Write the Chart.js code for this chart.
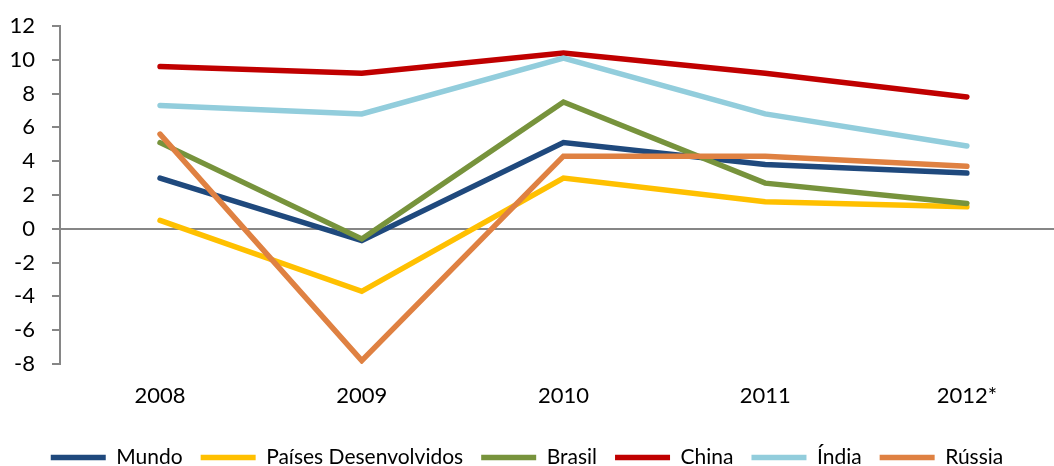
<!DOCTYPE html>
<html>
<head>
<meta charset="utf-8">
<script src="https://cdn.jsdelivr.net/npm/chart.js@4"></script>
<style>
    html, body { margin: 0; padding: 0; background: #fff; overflow: hidden; }
    #wrap { width: 1054px; height: 466px; overflow: hidden; }
</style>
</head>
<body>
<div id="wrap">
    <canvas id="grafico" width="1054" height="478"></canvas>
</div>
<script>
// Dados
const anos = ['2008', '2009', '2010', '2011', '2012*'];
const mundo = [3.0, -0.7, 5.1, 3.8, 3.3];
const paisesDesenvolvidos = [0.5, -3.7, 3.0, 1.6, 1.3];
const brasil = [5.1, -0.6, 7.5, 2.7, 1.5];
const china = [9.6, 9.2, 10.4, 9.2, 7.8];
const india = [7.3, 6.8, 10.1, 6.8, 4.9];
const russia = [5.6, -7.8, 4.3, 4.3, 3.7];
const ticksY = [-8, -6, -4, -2, 0, 2, 4, 6, 8, 10, 12];

const series = [
    { label: 'Mundo', data: mundo, color: '#1F497D' },
    { label: 'Países Desenvolvidos', data: paisesDesenvolvidos, color: '#FFC000' },
    { label: 'Brasil', data: brasil, color: '#77933C' },
    { label: 'China', data: china, color: '#C00000' },
    { label: 'Índia', data: india, color: '#92CDDC' },
    { label: 'Rússia', data: russia, color: '#DF8142' }
];

const fonte = 'Lato, "Open Sans", sans-serif';
const cinza = '#868686';

// últimas séries desenhadas por cima, como no original
const datasets = series.map((s, i) => ({
    label: s.label,
    data: s.data.map((v, j) => ({ x: j, y: v })),
    borderColor: s.color,
    backgroundColor: s.color,
    borderWidth: 5.5,
    borderCapStyle: 'round',
    pointRadius: 0,
    tension: 0,
    order: series.length - i
}));

new Chart(document.getElementById('grafico'), {
    type: 'line',
    data: { datasets: datasets },
    options: {
        responsive: false,
        animation: false,
        devicePixelRatio: 1,
        layout: { padding: { top: 26, left: 0, right: 0, bottom: 0 } },
        scales: {
            x: {
                type: 'linear',
                position: 'bottom',
                min: -0.496,
                max: 4.432,
                afterBuildTicks: function(scale) {
                    scale.ticks = anos.map((_, i) => ({ value: i }));
                },
                afterFit: function(scale) {
                    scale.height = 65;
                },
                grid: { display: false, drawTicks: false },
                border: { display: false },
                ticks: {
                    padding: 19,
                    color: '#000',
                    font: { family: fonte, size: 22 },
                    callback: function(value) {
                        return anos[value];
                    }
                }
            },
            y: {
                min: -8,
                max: 12,
                afterBuildTicks: function(scale) {
                    scale.ticks = ticksY.map(v => ({ value: v }));
                },
                afterFit: function(scale) {
                    scale.width = 60;
                    // sem folga extra acima/abaixo do eixo
                    scale.paddingTop = 0;
                    scale.paddingBottom = 0;
                },
                border: { display: true, color: cinza, width: 2 },
                grid: {
                    drawTicks: true,
                    tickLength: 8,
                    tickColor: cinza,
                    lineWidth: 2,
                    color: function(ctx) {
                        return ctx.tick && ctx.tick.value === 0 ? cinza : 'rgba(0,0,0,0)';
                    }
                },
                ticks: {
                    padding: 17,
                    color: '#000',
                    font: { family: fonte, size: 22 }
                }
            }
        },
        plugins: {
            legend: {
                position: 'bottom',
                labels: {
                    usePointStyle: true,
                    pointStyle: 'line',
                    pointStyleWidth: 55,
                    padding: 18,
                    color: '#000',
                    font: { family: fonte, size: 21 },
                    sort: function(a, b) {
                        return a.datasetIndex - b.datasetIndex;
                    }
                }
            },
            tooltip: { enabled: false }
        }
    }
});
</script>
</body>
</html>
